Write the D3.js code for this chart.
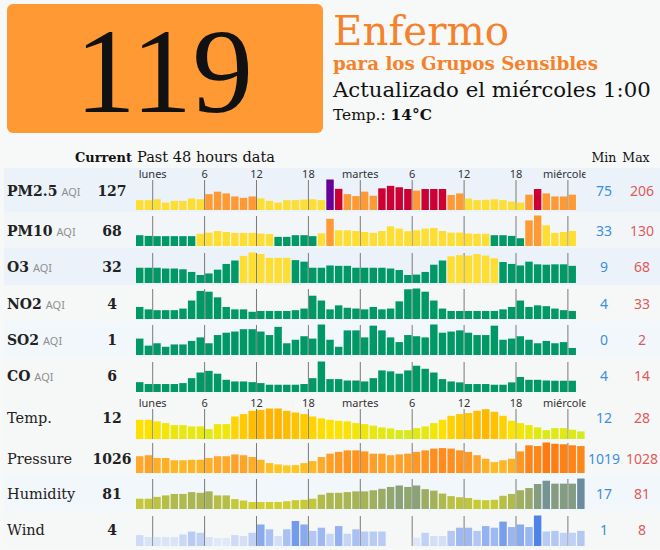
<!DOCTYPE html>
<html><head><meta charset="utf-8">
<script src="https://cdn.jsdelivr.net/npm/d3@7"></script>
<style>
html,body{margin:0;padding:0;background:#f7f8f8;}
svg{display:block;}
</style></head><body>
<svg id="chart" width="660" height="550"></svg>
<script>
// ---------------- data ----------------
const hours = d3.range(-2, 50);            // hourly slots: domingo 22:00 ... miércoles 1:00
const tickHours = [0, 6, 12, 18, 24, 30, 36, 42, 48];
const tickLabels = ["lunes", "6", "12", "18", "martes", "6", "12", "18", "miércoles"];

const aqiValue = 119;
const aqiLevel = "Enfermo";
const aqiSubLevel = "para los Grupos Sensibles";
const updatedText = "Actualizado el miércoles 1:00";
const tempLabel = "Temp.: ";
const tempNow = "14°C";

const rowLabels = ["PM2.5", "PM10", "O3", "NO2", "SO2", "CO", "Temp.", "Pressure", "Humidity", "Wind"];
const rowUnits = ["AQI", "AQI", "AQI", "AQI", "AQI", "AQI", "", "", "", ""];
const currentValues = [127, 68, 32, 4, 1, 6, 12, 1026, 81, 4];
const minValues = [75, 33, 9, 4, 0, 4, 12, 1019, 17, 1];
const maxValues = [206, 130, 68, 33, 2, 14, 28, 1028, 81, 8];

const pm25 = [89,89,94,75,85,85,99,94,123,137,127,110,102,110,99,85,75,89,89,92,94,89,206,153,123,112,
              137,114,156,170,162,152,143,152,152,152,118,127,98,89,91,94,89,81,75,120,152,127,110,110,120];
const pm10 = [46,43,42,42,42,42,42,52,57,64,60,56,56,56,53,51,39,39,46,46,42,54,116,67,67,64,
              60,56,64,84,74,63,67,74,77,64,57,57,53,52,52,46,46,43,33,109,130,88,56,60,64];
const o3   = [28,28,28,26,26,24,17,9,13,23,38,47,59,68,64,54,54,54,48,44,28,28,34,33,33,28,
              28,28,28,26,22,9,10,17,36,47,58,61,60,64,60,53,43,38,34,44,37,36,37,37,33];
const no2  = [10,7,6,6,6,8,18,30,29,22,10,7,7,4,5,5,5,5,6,8,24,18,7,12,9,8,
              7,10,7,8,17,32,33,29,18,8,5,5,5,5,5,5,7,10,18,10,12,11,8,6,5];
const so2  = [0.8,0.2,0.4,0.1,0.3,0.3,0.6,0.9,0.4,1.1,1.3,1.4,1.6,1.6,1.4,1.1,1.8,0.4,0.7,1.0,0.8,2.0,0.7,0.1,1.5,1.5,
              0.9,1.9,1.5,0.9,0.5,1.1,1.0,0.9,2.0,1.3,1.4,1.5,1.3,1.1,1.1,1.9,0.7,0.8,1.0,0.7,0.4,0.6,0.4,0.5,0.0];
const co   = [5.2,4.4,4.4,4.4,4.4,4.8,6.9,9.3,10,8.8,6.2,5.5,5.5,5.2,4.8,4.1,4.1,4.1,4.1,4.4,6.9,14,6.5,6.5,5.9,5.9,
              5.5,6.9,10.2,9.8,8.8,10.2,12.2,10.9,9.3,6.5,5.5,5.1,4.4,4.4,4.4,4.1,4.1,5.1,7.4,6.2,6.2,5.9,5.8,5.8,5.8];
const temp = [20.1,20.1,19.0,17.8,16.4,16.4,15.5,15.5,13.6,17.1,17.1,22.4,24.1,26.4,27.0,28,28,26.4,25.2,24.1,
              22.4,21.1,20.1,19.4,19.0,17.8,17.1,16.0,14.8,14.1,12.9,12.9,14.3,15.5,17.8,20.1,22.9,24.1,24.8,26.4,
              27.5,25.7,22.9,19.4,17.8,16.4,14.8,12.9,14.3,14.3,13.2,12.0];
const pressure = [1022.6,1023.0,1021.9,1021.9,1021.0,1021.0,1021.2,1021.2,1021.9,1022.6,1022.6,1023.3,1023.0,1022.3,1021.2,
              1019.9,1019.4,1019.0,1019.1,1019.9,1020.7,1022.3,1023.6,1024.3,1024.9,1024.9,1024.5,1023.6,1023.6,1023.0,
              1023.3,1023.6,1024.3,1024.9,1025.6,1025.8,1025.6,1024.9,1024.3,1023.0,1021.6,1020.3,1021.0,1021.6,1024.5,
              1026.9,1026.6,1028.0,1027.5,1027.3,1026.9,1026.6];
const humidity = [26,26,31,35,39,39,44,42,46,35,35,25,21,17,17,17,17,19,22,23,26,37,42,42,44,46,46,49,53,58,
              62,58,62,52,48,40,33,30,28,23,22,23,34,39,49,55,66,75,67,67,67,81];
const wind = [1.9,1.3,1.3,1.3,1.3,2.1,3.0,2.6,1.3,1.0,1.0,1.9,1.6,2.6,5.2,3.7,1.6,3.7,6.3,5.2,3.2,4.2,2.3,4.7,2.3,3.7,
              3.0,3.0,3.0,null,null,null,1.1,2.6,1.6,1.6,3.2,4.2,4.2,3.2,4.7,4.2,6.1,4.4,5.2,4.4,8.0,3.0,3.2,2.6,2.6,3.2];

const seriesList = [pm25, pm10, o3, no2, so2, co, temp, pressure, humidity, wind];

// ---------------- layout / style ----------------
const rowTop    = [168, 212, 248, 285, 321, 357, 394, 441, 475, 511];
const rowBottom = [212, 248, 285, 321, 357, 394, 441, 475, 511, 548];
const rowFill   = ["#ebf2fa", "#f3f6f8", "#ebf2fa", "#f6f7f7", "#f2f7fb", "#f6f7f7", "#f6f7f7", "#f6f7f7", "#f2f7fb", "#f6f7f7"];
const rowFloor  = [33, 0, -12, -5, -0.6, 1, 6.7, 1016, -2, -1.5];   // value at zero bar height
const tickLabelRows = [0, 6];
const barMaxH = 30.5;

const serif = "'DejaVu Serif', serif";
const sans = "'Noto Sans', 'Open Sans', sans-serif";

const aqiColor = d3.scaleThreshold().domain([51, 101, 151, 201, 301])
  .range(["#009966", "#ffde33", "#ff9933", "#cc0033", "#660099", "#7e0023"]);
const tempColor = d3.scaleLinear().domain([12, 20, 28]).range(["#d3ec1c", "#ffe200", "#ffb400"]).clamp(true);
const pressColor = d3.scaleLinear().domain([1019, 1023, 1028]).range(["#ffc81c", "#ffa42a", "#ff7a12"]).clamp(true);
const humColor = d3.scaleLinear().domain([17, 45, 81]).range(["#d0d02c", "#a9b455", "#6a8c9e"]).clamp(true);
const windColor = d3.scaleLinear().domain([1, 8]).range(["#e0e8f9", "#4f82e6"]).clamp(true);
const rowColor = [aqiColor, aqiColor, aqiColor, aqiColor, aqiColor, aqiColor, tempColor, pressColor, humColor, windColor];

const svg = d3.select("#chart");
svg.append("rect").attr("width", 660).attr("height", 550).attr("fill", "#f7f8f8");

const defs = svg.append("defs");
defs.append("clipPath").attr("id", "plotClip").append("rect")
  .attr("x", 0).attr("y", 0).attr("width", 585.5).attr("height", 550);

function fit(sel, target) {
  const w = sel.node().getComputedTextLength();
  const fs = parseFloat(sel.attr("font-size"));
  sel.attr("font-size", fs * target / w);
  return sel;
}

// ---------------- header ----------------
svg.append("rect").attr("x", 7).attr("y", 4).attr("width", 316).attr("height", 129)
  .attr("rx", 6).attr("fill", "#ff9933");
fit(svg.append("text").attr("x", 164).attr("y", 112).attr("text-anchor", "middle")
  .attr("font-family", "'Liberation Serif', serif").attr("font-size", 120).attr("fill", "#111")
  .text(aqiValue), 178);

fit(svg.append("text").attr("x", 333).attr("y", 45).attr("font-family", serif)
  .attr("font-size", 36).attr("fill", "#f5822a").text(aqiLevel), 176);
fit(svg.append("text").attr("x", 333).attr("y", 70).attr("font-family", serif).attr("font-weight", "bold")
  .attr("font-size", 16).attr("fill", "#f5822a").text(aqiSubLevel), 265);
fit(svg.append("text").attr("x", 333).attr("y", 97).attr("font-family", serif)
  .attr("font-size", 19).attr("fill", "#111").text(updatedText), 318);
const tt = svg.append("text").attr("x", 333).attr("y", 120).attr("font-family", serif)
  .attr("font-size", 12).attr("fill", "#111");
tt.append("tspan").text(tempLabel);
tt.append("tspan").attr("font-weight", "bold").text(tempNow);
fit(tt, 99);

// column headers
fit(svg.append("text").attr("x", 75).attr("y", 162).attr("font-family", serif).attr("font-weight", "bold")
  .attr("font-size", 13).attr("fill", "#111").text("Current"), 57);
fit(svg.append("text").attr("x", 137).attr("y", 162).attr("font-family", serif)
  .attr("font-size", 13).attr("fill", "#111").text("Past 48 hours data"), 138);
svg.append("text").attr("x", 604).attr("y", 162).attr("text-anchor", "middle").attr("font-family", serif)
  .attr("font-size", 12.5).attr("fill", "#111").text("Min");
svg.append("text").attr("x", 636).attr("y", 162).attr("text-anchor", "middle").attr("font-family", serif)
  .attr("font-size", 12.5).attr("fill", "#111").text("Max");

// ---------------- scales ----------------
const x = d3.scaleBand().domain(hours).range([136, 584.6]).paddingInner(0.14).paddingOuter(0);
const gap = x.step() - x.bandwidth();
const tickX = h => x(h) - gap / 2;

// ---------------- rows ----------------
rowLabels.forEach((label, i) => {
  const g = svg.append("g");
  const top = rowTop[i], bottom = rowBottom[i];
  const base = bottom - 2;
  const mid = (top + bottom) / 2 + 5.5;
  g.append("rect").attr("x", 4).attr("y", top).attr("width", 656).attr("height", bottom - top)
    .attr("fill", rowFill[i]);

  const y = d3.scaleLinear().domain([rowFloor[i], maxValues[i]]).range([0, barMaxH]);
  const vals = seriesList[i];

  // tick lines (behind bars)
  g.append("g").selectAll("line").data(tickHours).join("line")
    .attr("x1", d => tickX(d)).attr("x2", d => tickX(d))
    .attr("y1", base - 30).attr("y2", base)
    .attr("stroke", "#7a7a7a").attr("stroke-width", 1);

  if (tickLabelRows.includes(i)) {
    g.append("g").attr("clip-path", "url(#plotClip)").selectAll("text").data(tickHours).join("text")
      .attr("x", d => tickX(d)).attr("y", base - 32).attr("text-anchor", "middle")
      .attr("font-family", sans).attr("font-size", 11).attr("fill", "#333")
      .text((d, k) => tickLabels[k]);
  }

  g.append("g").selectAll("rect").data(vals.map((v, k) => ({ v, h: hours[k] })).filter(d => d.v !== null))
    .join("rect")
    .attr("x", d => x(d.h)).attr("width", x.bandwidth())
    .attr("y", d => base - y(d.v)).attr("height", d => y(d.v))
    .attr("fill", d => rowColor[i](d.v));

  // labels
  const isAqi = rowUnits[i] !== "";
  const lt = g.append("text").attr("x", 7).attr("y", mid).attr("font-family", serif)
    .attr("font-weight", isAqi ? "bold" : "normal").attr("font-size", isAqi ? 14 : 14.5)
    .attr("fill", "#222").text(label);
  if (isAqi) {
    const w = lt.node().getComputedTextLength();
    g.append("text").attr("x", 7 + w + 4).attr("y", mid).attr("font-family", sans)
      .attr("font-size", 11).attr("fill", "#8f8f8f").text(rowUnits[i]);
  }
  g.append("text").attr("x", 112).attr("y", mid).attr("text-anchor", "middle").attr("font-family", serif)
    .attr("font-weight", "bold").attr("font-size", 14).attr("fill", "#222").text(currentValues[i]);
  g.append("text").attr("x", 604).attr("y", mid).attr("text-anchor", "middle").attr("font-family", sans)
    .attr("font-size", 14).attr("fill", "#3d8fdc").text(minValues[i]);
  g.append("text").attr("x", 642).attr("y", mid).attr("text-anchor", "middle").attr("font-family", sans)
    .attr("font-size", 14).attr("fill", "#de5b58").text(maxValues[i]);
});
</script>
</body></html>
